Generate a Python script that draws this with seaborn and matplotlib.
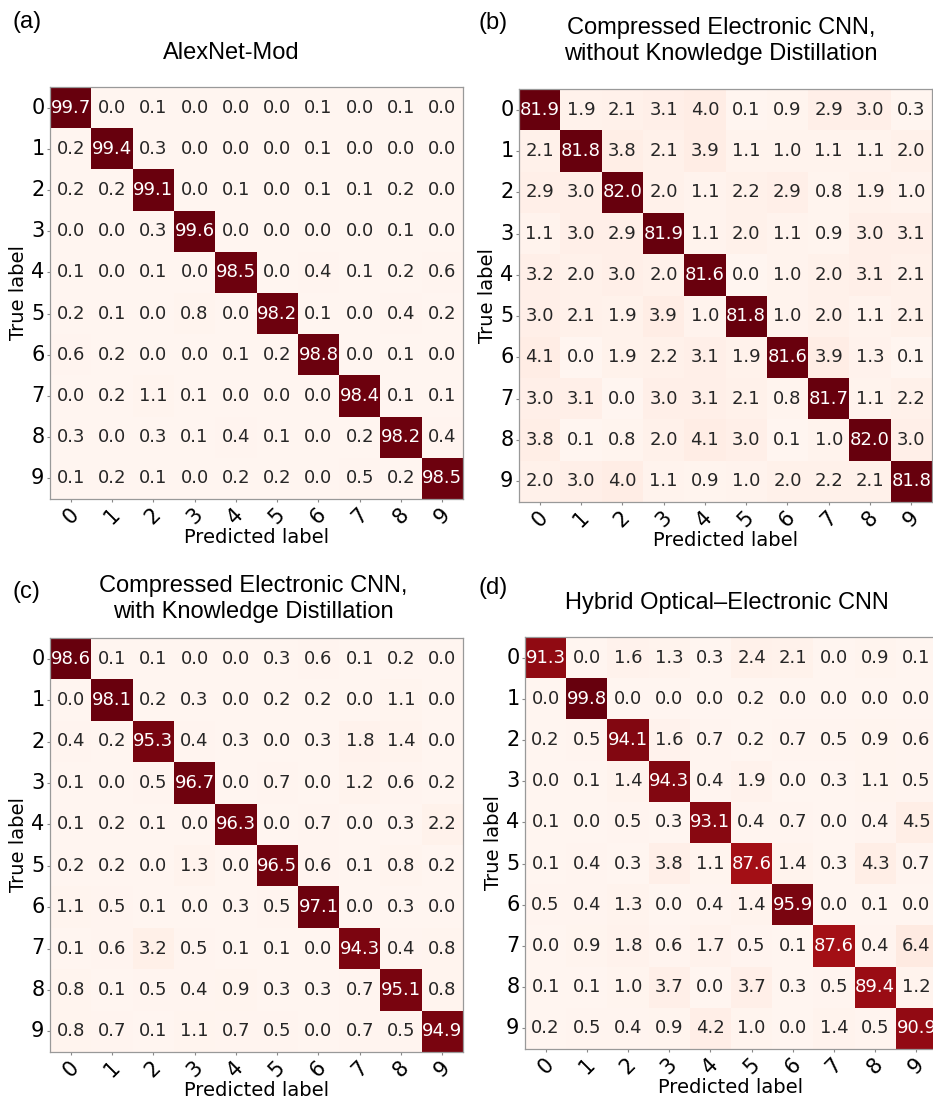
import numpy as np
import matplotlib
matplotlib.use("Agg")
import matplotlib.pyplot as plt
import seaborn as sns

labels = ["0", "1", "2", "3", "4", "5", "6", "7", "8", "9"]

cm_alexnet = [
    [99.7, 0.0, 0.1, 0.0, 0.0, 0.0, 0.1, 0.0, 0.1, 0.0],
    [0.2, 99.4, 0.3, 0.0, 0.0, 0.0, 0.1, 0.0, 0.0, 0.0],
    [0.2, 0.2, 99.1, 0.0, 0.1, 0.0, 0.1, 0.1, 0.2, 0.0],
    [0.0, 0.0, 0.3, 99.6, 0.0, 0.0, 0.0, 0.0, 0.1, 0.0],
    [0.1, 0.0, 0.1, 0.0, 98.5, 0.0, 0.4, 0.1, 0.2, 0.6],
    [0.2, 0.1, 0.0, 0.8, 0.0, 98.2, 0.1, 0.0, 0.4, 0.2],
    [0.6, 0.2, 0.0, 0.0, 0.1, 0.2, 98.8, 0.0, 0.1, 0.0],
    [0.0, 0.2, 1.1, 0.1, 0.0, 0.0, 0.0, 98.4, 0.1, 0.1],
    [0.3, 0.0, 0.3, 0.1, 0.4, 0.1, 0.0, 0.2, 98.2, 0.4],
    [0.1, 0.2, 0.1, 0.0, 0.2, 0.2, 0.0, 0.5, 0.2, 98.5],
]

cm_no_kd = [
    [81.9, 1.9, 2.1, 3.1, 4.0, 0.1, 0.9, 2.9, 3.0, 0.3],
    [2.1, 81.8, 3.8, 2.1, 3.9, 1.1, 1.0, 1.1, 1.1, 2.0],
    [2.9, 3.0, 82.0, 2.0, 1.1, 2.2, 2.9, 0.8, 1.9, 1.0],
    [1.1, 3.0, 2.9, 81.9, 1.1, 2.0, 1.1, 0.9, 3.0, 3.1],
    [3.2, 2.0, 3.0, 2.0, 81.6, 0.0, 1.0, 2.0, 3.1, 2.1],
    [3.0, 2.1, 1.9, 3.9, 1.0, 81.8, 1.0, 2.0, 1.1, 2.1],
    [4.1, 0.0, 1.9, 2.2, 3.1, 1.9, 81.6, 3.9, 1.3, 0.1],
    [3.0, 3.1, 0.0, 3.0, 3.1, 2.1, 0.8, 81.7, 1.1, 2.2],
    [3.8, 0.1, 0.8, 2.0, 4.1, 3.0, 0.1, 1.0, 82.0, 3.0],
    [2.0, 3.0, 4.0, 1.1, 0.9, 1.0, 2.0, 2.2, 2.1, 81.8],
]

cm_kd = [
    [98.6, 0.1, 0.1, 0.0, 0.0, 0.3, 0.6, 0.1, 0.2, 0.0],
    [0.0, 98.1, 0.2, 0.3, 0.0, 0.2, 0.2, 0.0, 1.1, 0.0],
    [0.4, 0.2, 95.3, 0.4, 0.3, 0.0, 0.3, 1.8, 1.4, 0.0],
    [0.1, 0.0, 0.5, 96.7, 0.0, 0.7, 0.0, 1.2, 0.6, 0.2],
    [0.1, 0.2, 0.1, 0.0, 96.3, 0.0, 0.7, 0.0, 0.3, 2.2],
    [0.2, 0.2, 0.0, 1.3, 0.0, 96.5, 0.6, 0.1, 0.8, 0.2],
    [1.1, 0.5, 0.1, 0.0, 0.3, 0.5, 97.1, 0.0, 0.3, 0.0],
    [0.1, 0.6, 3.2, 0.5, 0.1, 0.1, 0.0, 94.3, 0.4, 0.8],
    [0.8, 0.1, 0.5, 0.4, 0.9, 0.3, 0.3, 0.7, 95.1, 0.8],
    [0.8, 0.7, 0.1, 1.1, 0.7, 0.5, 0.0, 0.7, 0.5, 94.9],
]

cm_hybrid = [
    [91.3, 0.0, 1.6, 1.3, 0.3, 2.4, 2.1, 0.0, 0.9, 0.1],
    [0.0, 99.8, 0.0, 0.0, 0.0, 0.2, 0.0, 0.0, 0.0, 0.0],
    [0.2, 0.5, 94.1, 1.6, 0.7, 0.2, 0.7, 0.5, 0.9, 0.6],
    [0.0, 0.1, 1.4, 94.3, 0.4, 1.9, 0.0, 0.3, 1.1, 0.5],
    [0.1, 0.0, 0.5, 0.3, 93.1, 0.4, 0.7, 0.0, 0.4, 4.5],
    [0.1, 0.4, 0.3, 3.8, 1.1, 87.6, 1.4, 0.3, 4.3, 0.7],
    [0.5, 0.4, 1.3, 0.0, 0.4, 1.4, 95.9, 0.0, 0.1, 0.0],
    [0.0, 0.9, 1.8, 0.6, 1.7, 0.5, 0.1, 87.6, 0.4, 6.4],
    [0.1, 0.1, 1.0, 3.7, 0.0, 3.7, 0.3, 0.5, 89.4, 1.2],
    [0.2, 0.5, 0.4, 0.9, 4.2, 1.0, 0.0, 1.4, 0.5, 90.9],
]

titles = [
    "AlexNet-Mod",
    "Compressed Electronic CNN,\nwithout Knowledge Distillation",
    "Compressed Electronic CNN,\nwith Knowledge Distillation",
    "Hybrid Optical\u2013Electronic CNN",
]
panel_tags = ["(a)", "(b)", "(c)", "(d)"]
matrices = [cm_alexnet, cm_no_kd, cm_kd, cm_hybrid]

W, H = 933, 1099
fig = plt.figure(figsize=(W / 100, H / 100), dpi=100)

# axes boxes in pixels: left, top, right, bottom
boxes = [
    (50, 87, 463, 499),
    (519, 89, 932, 502),
    (50, 638, 463, 1052),
    (525, 637, 937, 1049),
]
title_pos = [(231, 53), (721, 41), (253, 599), (727, 603)]
tag_pos = [(13, 22), (479, 23), (13, 592), (479, 588)]

for m, title, tag, box, tp, gp in zip(matrices, titles, panel_tags, boxes, title_pos, tag_pos):
    l, t, r, b = box
    ax = fig.add_axes([l / W, 1 - b / H, (r - l) / W, (b - t) / H])
    arr = np.array(m)
    sns.heatmap(arr, ax=ax, cmap="Reds", vmin=0, vmax=arr.max(), annot=True, fmt=".1f",
                cbar=False, square=False, xticklabels=labels, yticklabels=labels,
                annot_kws={"fontsize": 13, "family": "DejaVu Sans"})
    for s in ax.spines.values():
        s.set_visible(True)
        s.set_color("#999999")
        s.set_linewidth(0.9)
    ax.tick_params(axis="both", length=2.5, width=0.8, color="#888888", labelsize=15, pad=1.5)
    plt.setp(ax.get_xticklabels(), rotation=45, ha="center", rotation_mode="default")
    plt.setp(ax.get_yticklabels(), rotation=0, va="center")
    ax.set_xlabel("Predicted label", fontsize=14, labelpad=0)
    ax.set_ylabel("True label", fontsize=14, labelpad=2)
    fig.text(tp[0] / W, 1 - tp[1] / H, title, ha="center", va="center",
             fontsize=17, family="Liberation Sans", linespacing=1.2)
    fig.text(gp[0] / W, 1 - gp[1] / H, tag, ha="left", va="center",
             fontsize=17, family="Liberation Sans")

fig.savefig("out.png", dpi=100)
